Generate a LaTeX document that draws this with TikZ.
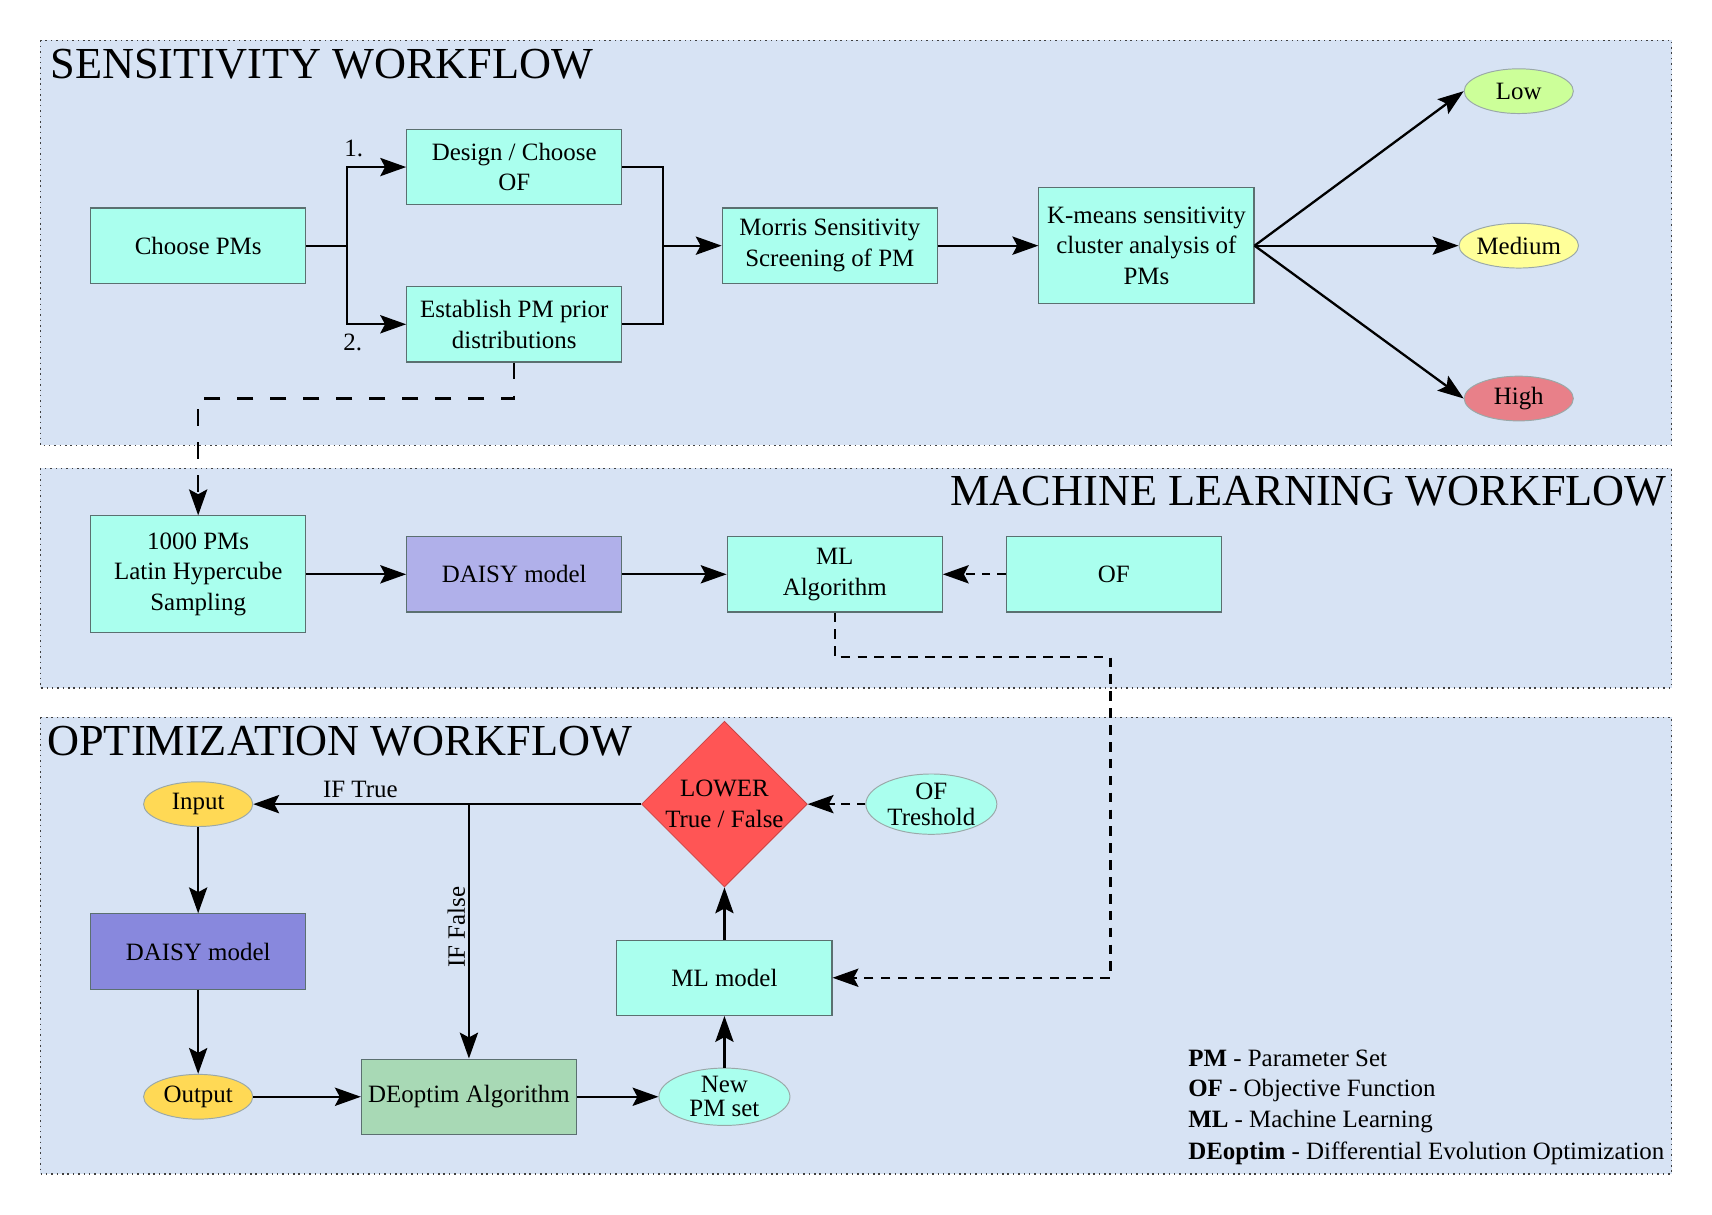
\documentclass[tikz,border=0pt]{standalone}
\usepackage{fontspec}
\setmainfont{Liberation Serif}
\usetikzlibrary{arrows.meta,shapes.geometric,calc}
\definecolor{panelc}{HTML}{D7E3F4}
\definecolor{cyanc}{HTML}{AAFFEE}
\definecolor{boxb}{HTML}{5B7070}
\definecolor{ellb}{HTML}{9AA8A8}
\definecolor{lowc}{HTML}{CCFF99}
\definecolor{medc}{HTML}{FFFF99}
\definecolor{highc}{HTML}{E88089}
\definecolor{daisyA}{HTML}{B0B0EA}
\definecolor{daisyB}{HTML}{8888DD}
\definecolor{deoc}{HTML}{A8D9B5}
\definecolor{ioc}{HTML}{FFD955}
\definecolor{diac}{HTML}{FF5555}
\tikzset{
  ln/.style={line width=1.2pt, draw=black},
  arr/.style={ln, -{Stealth[length=13.5pt,width=9.5pt,inset=2.5pt]}},
  box/.style={rectangle, draw=boxb, line width=0.6pt, fill=cyanc, minimum width=3.94cm, minimum height=1.38cm, align=center, inner sep=2pt},
  ell/.style={ellipse, draw=ellb, line width=0.5pt, minimum width=2cm, minimum height=0.82cm, inner sep=0pt, align=center},
  panelbox/.style={fill=panelc, draw=black!75, dotted, line width=0.8pt},
  ttl/.style={font=\fontsize{23.1}{28}\selectfont, inner sep=0pt},
  lab/.style={inner sep=1pt},
  leg/.style={inner sep=0pt, anchor=west}
}
\begin{document}
\begin{tikzpicture}[x=0.02cm, y=-0.02cm, font=\fontsize{13}{16}\selectfont]
\useasboundingbox (0,0) rectangle (1568,1112);
% panels
\path[panelbox] (37,37) rectangle (1531,408);
\path[panelbox] (37,429) rectangle (1531,630);
\path[panelbox] (37,657) rectangle (1531,1075);
% titles
\node[ttl, anchor=base west] (t1) at (46,71.5) {SENSITIVITY WORKFLOW};
\node[ttl, anchor=base east] (t2) at (1527,463) {MACHINE LEARNING WORKFLOW};
\node[ttl, anchor=base west] (t3) at (43,692) {OPTIMIZATION WORKFLOW};
% sensitivity
\node[box] (cp) at (181.5,225) {Choose PMs};
\node[box] (des) at (471,153) {Design / Choose\\OF};
\node[box] (est) at (471,297) {Establish PM prior\\distributions};
\node[box] (mor) at (760,225) {Morris Sensitivity\\Screening of PM};
\node[box, minimum height=2.12cm] (km) at (1050,225) {K-means sensitivity\\cluster analysis of\\PMs};
\node[ell, fill=lowc] (low) at (1391,83.5) {Low};
\node[ell, fill=medc] (med) at (1391,225) {Medium};
\node[ell, fill=highc] (high) at (1391,365) {High};
\coordinate (sp) at (318,225);
\coordinate (jn) at (607,225);
\draw[ln] (cp.east) -- (sp);
\draw[arr] (sp) |- (des.west);
\draw[arr] (sp) |- (est.west);
\draw[ln] (des.east) -| (jn);
\draw[ln] (est.east) -| (jn);
\draw[arr] (jn) -- (mor.west);
\draw[arr] (mor.east) -- (km.west);
\draw[arr] (km.east) -- (low.west);
\draw[arr] (km.east) -- (med.west);
\draw[arr] (km.east) -- (high.west);
\node[lab] (l1) at (324,136) {1.};
\node[lab] (l2) at (323,314) {2.};
% machine learning
\node[box, minimum height=2.14cm] (lhs) at (181.5,526) {1000 PMs\\Latin Hypercube\\Sampling};
\node[box, fill=daisyA] (dai1) at (471,526) {DAISY model};
\node[box] (mla) at (764.5,526) {ML\\Algorithm};
\node[box] (of) at (1020,526) {OF};
\draw[arr] (lhs.east) -- (dai1.west);
\draw[arr] (dai1.east) -- (mla.west);
\draw[arr, dash pattern=on 4.5pt off 3.5pt] (of.west) -- (mla.east);
\coordinate (e1) at (471,365);
\draw[arr, dash pattern=on 8.6pt off 8.6pt] (est.south) -- (e1) -| (lhs.north);
\coordinate (m1) at (1017,602);
% optimization
\node[ell, fill=ioc] (inp) at (181.5,736.5) {Input};
\node[box, fill=daisyB] (dai2) at (181.5,871.5) {DAISY model};
\node[ell, fill=ioc] (out) at (181.5,1004.5) {Output};
\node[box, fill=deoc] (deo) at (429.5,1004.5) {DEoptim Algorithm};
\node[ell, fill=cyanc, minimum width=2.4cm, minimum height=0.94cm, font=\fontsize{13}{12.5}\selectfont] (npm) at (663.5,1004.5) {New\\PM set};
\node[box] (mlm) at (663.5,895.5) {ML model};
\node[diamond, fill=diac, draw=diac!80!black, line width=0.4pt, inner sep=0pt, minimum width=2.96cm, minimum height=2.92cm, align=center] (dia) at (663.5,736.5) {LOWER\\True / False};
\node[ell, fill=cyanc, minimum width=2.4cm, minimum height=1cm, font=\fontsize{13}{13.5}\selectfont] (oft) at (853,736.5) {OF\\Treshold};
\draw[arr, dash pattern=on 5pt off 3.8pt] (mla.south) |- (m1) |- (mlm.east);
\draw[arr] (dia.west) -- (inp.east);
\coordinate (fs) at (deo.north |- dia.west);
\draw[arr] (fs) -- (deo.north);
\draw[arr] (inp.south) -- (dai2.north);
\draw[arr] (dai2.south) -- (out.north);
\draw[arr] (out.east) -- (deo.west);
\draw[arr] (deo.east) -- (npm.west);
\draw[arr] (npm.north) -- (mlm.south);
\draw[arr] (mlm.north) -- (dia.south);
\draw[arr, dash pattern=on 4.5pt off 3.5pt] (oft.west) -- (dia.east);
\node[lab] (iftrue) at (330,723) {IF True};
\node[lab, rotate=90] (iffalse) at (418,849) {IF False};
% legend
\node[leg] (g1) at (1088,969.5) {\textbf{PM} - Parameter Set};
\node[leg] (g2) at (1088,998.5) {\textbf{OF} - Objective Function};
\node[leg] (g3) at (1088,1027.5) {\textbf{ML} - Machine Learning};
\node[leg] (g4) at (1088,1056.5) {\textbf{DEoptim} - Differential Evolution Optimization};
\end{tikzpicture}
\end{document}
